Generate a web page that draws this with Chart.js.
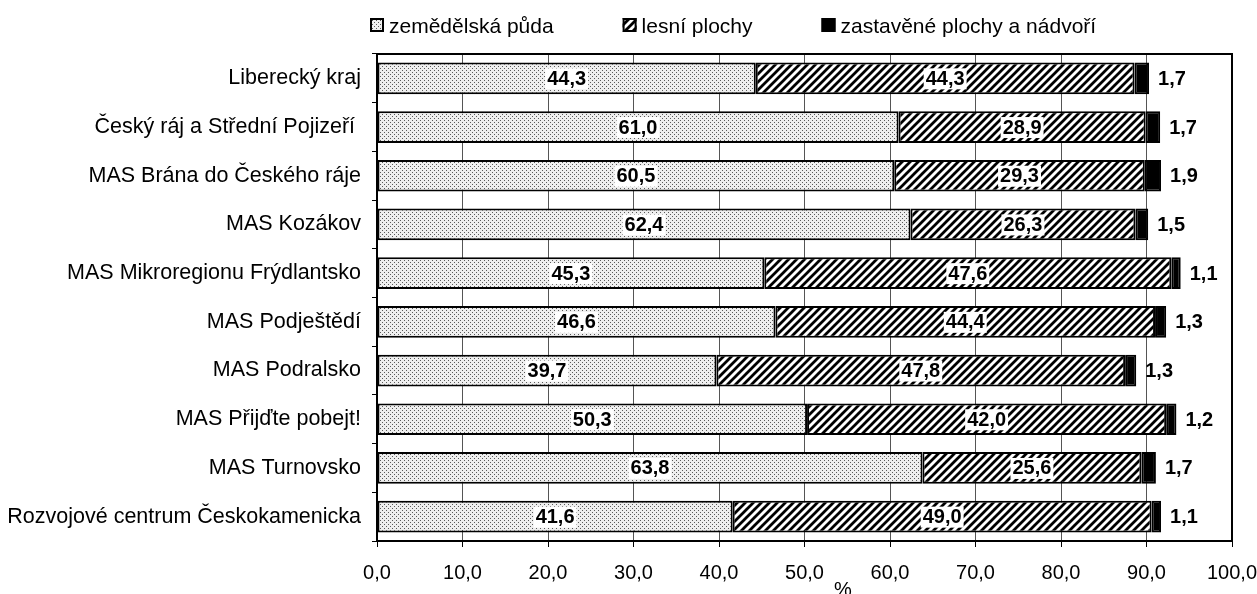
<!DOCTYPE html>
<html lang="cs">
<head>
<meta charset="utf-8">
<title>Využití půdy</title>
<script src="https://cdn.jsdelivr.net/npm/chart.js@4.4.1/dist/chart.umd.min.js"></script>
<style>
  html, body { margin: 0; padding: 0; background: #fff; }
  canvas { display: block; }
</style>
</head>
<body>
<canvas id="landChart" width="1257" height="594"></canvas>
<script>
const kategorie = [
  'Liberecký kraj',
  'Český ráj a Střední Pojizeří ',
  'MAS Brána do Českého ráje',
  'MAS Kozákov',
  'MAS Mikroregionu Frýdlantsko',
  'MAS Podještědí',
  'MAS Podralsko',
  'MAS Přijďte pobejt!',
  'MAS Turnovsko',
  'Rozvojové centrum Českokamenicka'
];
const zemedelska = [44.3, 61.0, 60.5, 62.4, 45.3, 46.6, 39.7, 50.3, 63.8, 41.6];
const lesni = [44.3, 28.9, 29.3, 26.3, 47.6, 44.4, 47.8, 42.0, 25.6, 49.0];
const zastavene = [1.7, 1.7, 1.9, 1.5, 1.1, 1.3, 1.3, 1.2, 1.7, 1.1];
const osaX = [0, 10, 20, 30, 40, 50, 60, 70, 80, 90, 100];

const FONT = '"Liberation Sans", Arial, sans-serif';
const fmt = (v) => Number(v).toFixed(1).replace('.', ',');

function dotPattern() {
  const c = document.createElement('canvas');
  c.width = 4; c.height = 4;
  const g = c.getContext('2d');
  g.fillStyle = '#efefef';
  g.fillRect(0, 0, 4, 4);
  g.fillStyle = '#5a5a5a';
  g.fillRect(0, 0, 1, 1);
  g.fillRect(2, 2, 1, 1);
  return g.createPattern(c, 'repeat');
}

function hatchPattern() {
  const c = document.createElement('canvas');
  c.width = 8; c.height = 8;
  const g = c.getContext('2d');
  g.fillStyle = '#fff';
  g.fillRect(0, 0, 8, 8);
  g.strokeStyle = '#000';
  g.lineWidth = 2.8;
  g.beginPath();
  g.moveTo(-1, 9); g.lineTo(9, -1);
  g.moveTo(-5, 5); g.lineTo(5, -5);
  g.moveTo(3, 13); g.lineTo(13, 3);
  g.stroke();
  return g.createPattern(c, 'repeat');
}

const frame = {
  id: 'frame',
  afterDatasetsDraw(chart) {
    const { ctx, chartArea: a } = chart;
    ctx.save();
    ctx.strokeStyle = '#000';
    ctx.lineWidth = 2;
    ctx.strokeRect(a.left, a.top, a.right - a.left, a.bottom - a.top);
    ctx.restore();
  }
};

const valueLabels = {
  id: 'valueLabels',
  afterDraw(chart) {
    const ctx = chart.ctx;
    ctx.save();
    ctx.font = 'bold 20px ' + FONT;
    ctx.textBaseline = 'middle';
    chart.data.datasets.forEach((ds, di) => {
      chart.getDatasetMeta(di).data.forEach((bar, i) => {
        const txt = fmt(ds.data[i]);
        const w = ctx.measureText(txt).width;
        if (di < 2) {
          const cx = (bar.x + bar.base) / 2;
          ctx.fillStyle = '#fff';
          ctx.fillRect(cx - w / 2 - 2, bar.y - 10, w + 4, 21);
          ctx.fillStyle = '#000';
          ctx.textAlign = 'center';
          ctx.fillText(txt, cx, bar.y + 1);
        } else {
          ctx.fillStyle = '#000';
          ctx.textAlign = 'left';
          ctx.fillText(txt, bar.x + 9, bar.y + 1);
        }
      });
    });
    ctx.restore();
  }
};

const legendRow = {
  id: 'legendRow',
  afterDraw(chart) {
    const ctx = chart.ctx;
    ctx.save();
    ctx.font = '21px ' + FONT;
    ctx.textBaseline = 'alphabetic';
    ctx.textAlign = 'left';
    let x = 370;
    chart.data.datasets.forEach((ds) => {
      ctx.fillStyle = ds.backgroundColor;
      ctx.fillRect(x, 18, 14, 14);
      ctx.strokeStyle = '#000';
      ctx.lineWidth = 2;
      ctx.strokeRect(x + 1, 19, 12, 12);
      ctx.fillStyle = '#000';
      ctx.fillText(ds.label, x + 19, 33);
      x += 19 + ctx.measureText(ds.label).width + 69;
    });
    ctx.restore();
  }
};

const percentTitle = {
  id: 'percentTitle',
  afterDraw(chart) {
    const ctx = chart.ctx;
    const sx = chart.scales.x;
    ctx.save();
    ctx.font = '20px ' + FONT;
    ctx.fillStyle = '#000';
    ctx.textAlign = 'center';
    ctx.textBaseline = 'top';
    ctx.fillText('%', sx.getPixelForValue(54.5), 580);
    ctx.restore();
  }
};

new Chart(document.getElementById('landChart'), {
  type: 'bar',
  data: {
    labels: kategorie,
    datasets: [
      { label: 'zemědělská půda', data: zemedelska, backgroundColor: dotPattern() },
      { label: 'lesní plochy', data: lesni, backgroundColor: hatchPattern() },
      { label: 'zastavěné plochy a nádvoří', data: zastavene, backgroundColor: '#000' }
    ].map((d) => Object.assign(d, {
      borderColor: '#000',
      borderWidth: 2,
      borderSkipped: false,
      barPercentage: 0.65,
      categoryPercentage: 1
    }))
  },
  options: {
    indexAxis: 'y',
    responsive: false,
    animation: false,
    events: [],
    layout: { padding: { top: 54, left: 0, right: 0, bottom: 0 } },
    plugins: {
      legend: { display: false },
      tooltip: { enabled: false }
    },
    scales: {
      x: {
        stacked: true,
        min: 0,
        max: 100,
        afterBuildTicks: (s) => { s.ticks = osaX.map((v) => ({ value: v })); },
        afterFit: (s) => { s.height = 53; s.paddingRight = 25; },
        ticks: {
          padding: 14,
          color: '#000',
          font: { family: FONT, size: 20 },
          callback: (v) => fmt(v)
        },
        grid: { color: '#555', lineWidth: 1, tickLength: 6, tickColor: '#000' },
        border: { display: true, color: '#000', width: 2 }
      },
      y: {
        stacked: true,
        afterFit: (s) => { s.width = 377; },
        ticks: {
          padding: 11,
          color: '#000',
          font: { family: FONT, size: 21.5 }
        },
        grid: { drawOnChartArea: false, offset: true, tickLength: 5, color: '#000', lineWidth: 1 },
        border: { display: true, color: '#000', width: 2 }
      }
    }
  },
  plugins: [frame, valueLabels, legendRow, percentTitle]
});
</script>
</body>
</html>
